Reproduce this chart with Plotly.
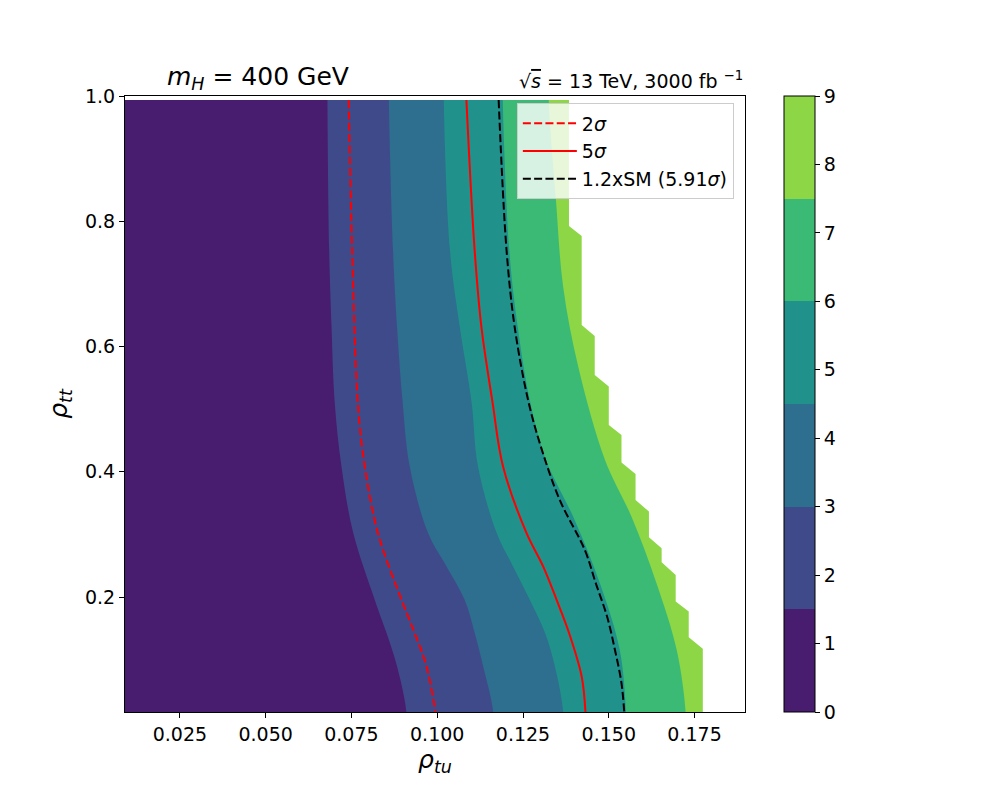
import plotly.graph_objects as go

# ---------------- data ----------------
x_min, x_max = 0.009, 0.1897          # axis range of rho_tu
y_min, y_max = 0.0165, 1.0            # axis range of rho_tt
data_top = 0.9936                     # top of the computed grid

levels = [0, 1.5, 3, 4.5, 6, 7.5, 9]
band_colors = ["#481c6e", "#3f4a8a", "#2e6e8e", "#21918c", "#3bba76", "#8dd645"]

# contour boundaries (x position of each level along rho_tt, top -> bottom)
b15_y = [0.9936, 0.754, 0.630, 0.5116, 0.408, 0.3025, 0.1955, 0.143, 0.089, 0.0165]
b15_x = [0.0680, 0.0685, 0.0692, 0.0701, 0.0721, 0.0755, 0.0818, 0.0852, 0.0883, 0.0910]

b30_y = [0.9936, 0.754, 0.630, 0.5116, 0.408, 0.3025, 0.2487, 0.1955, 0.143, 0.089, 0.0165]
b30_x = [0.0859, 0.0871, 0.0883, 0.0899, 0.0920, 0.0973, 0.1027, 0.1080, 0.1109, 0.1134, 0.1163]

b45_y = [0.9936, 0.754, 0.630, 0.5116, 0.408, 0.3025, 0.2487, 0.1955, 0.143, 0.089, 0.0165]
b45_x = [0.1019, 0.1037, 0.1066, 0.1100, 0.1119, 0.1173, 0.1221, 0.1270, 0.1314, 0.1343, 0.1367]

b60_y = [0.9936, 0.754, 0.630, 0.5116, 0.419, 0.3285, 0.2222, 0.1156, 0.0165]
b60_x = [0.1191, 0.1210, 0.1235, 0.1271, 0.1317, 0.1396, 0.1474, 0.1532, 0.1550]

b75_y = [0.9936, 0.834, 0.6956, 0.5679, 0.419, 0.3285, 0.2222, 0.1156, 0.0165]
b75_x = [0.1325, 0.1346, 0.1367, 0.1411, 0.1489, 0.1566, 0.1639, 0.1698, 0.1724]

# right edge of the valid grid (beyond it: no data)
edge_y = [0.9936, 0.7925, 0.7765, 0.6345, 0.6169, 0.5546, 0.5360, 0.4749, 0.4589, 0.4147,
          0.3966, 0.3551, 0.3365, 0.2956, 0.2780, 0.2557, 0.2354, 0.1928, 0.1769, 0.1360,
          0.1173, 0.0165]
edge_x = [0.1384, 0.1384, 0.1421, 0.1421, 0.1459, 0.1459, 0.1500, 0.1500, 0.1537, 0.1537,
          0.1578, 0.1578, 0.1617, 0.1617, 0.1654, 0.1654, 0.1695, 0.1695, 0.1733, 0.1733,
          0.1774, 0.1774]

# significance contour lines
sig2_y = [0.9936, 0.754, 0.5068, 0.408, 0.3025, 0.1955, 0.143, 0.089, 0.0165]
sig2_x = [0.0742, 0.0752, 0.0769, 0.0789, 0.0827, 0.0896, 0.0934, 0.0969, 0.0995]

sig5_y = [0.9936, 0.754, 0.630, 0.5116, 0.408, 0.3025, 0.2487, 0.1955, 0.143, 0.0731, 0.0165]
sig5_x = [0.1085, 0.1109, 0.1129, 0.1161, 0.1192, 0.1260, 0.1309, 0.1348, 0.1384, 0.1421, 0.1432]

sm_y = [0.9936, 0.754, 0.630, 0.5116, 0.435, 0.3551, 0.2753, 0.2222, 0.1689, 0.1156, 0.0626, 0.0165]
sm_x = [0.1179, 0.1202, 0.1226, 0.1266, 0.1305, 0.1357, 0.1430, 0.1462, 0.1495, 0.1518, 0.1537, 0.1545]

x_ticks = [0.025, 0.050, 0.075, 0.100, 0.125, 0.150, 0.175]
x_tick_labels = ["0.025", "0.050", "0.075", "0.100", "0.125", "0.150", "0.175"]
y_ticks = [0.2, 0.4, 0.6, 0.8, 1.0]
y_tick_labels = ["0.2", "0.4", "0.6", "0.8", "1.0"]
cbar_ticks = [0, 1, 2, 3, 4, 5, 6, 7, 8, 9]

legend_labels = ["2<i>σ</i>", "5<i>σ</i>", "1.2xSM (5.91<i>σ</i>)"]
title_left = "<i>m</i><sub><i>H</i></sub> = 400 GeV"
title_right = "√<span style='text-decoration:overline'><i>s</i></span> = 13 TeV, 3000 fb <sup>−1</sup>"

FONT = "DejaVu Sans"

# ---------------- figure ----------------
fig = go.Figure()

pad = 0.05  # how far the fill polygons reach outside the visible data area
right_edges = [(edge_x, edge_y, "linear"), (b75_x, b75_y, "spline"), (b60_x, b60_y, "spline"),
               (b45_x, b45_y, "spline"), (b30_x, b30_y, "spline"), (b15_x, b15_y, "spline")]
for (bx, by, shp), col in zip(right_edges, band_colors[::-1]):
    px = [x_min - pad, bx[0]] + list(bx) + [bx[-1], x_min - pad]
    py = [by[0] + pad, by[0] + pad] + list(by) + [by[-1] - pad, by[-1] - pad]
    fig.add_trace(go.Scatter(
        x=px, y=py, mode="lines", fill="toself", fillcolor=col,
        line=dict(width=0, color=col, shape=shp), showlegend=False, hoverinfo="skip"))

# blank strip between the top of the grid and the top of the axes
fig.add_trace(go.Scatter(
    x=[x_min - pad, x_max + pad, x_max + pad, x_min - pad],
    y=[data_top, data_top, y_max + pad, y_max + pad],
    mode="lines", fill="toself", fillcolor="white", line=dict(width=0, color="white"),
    showlegend=False, hoverinfo="skip"))

# contour lines
fig.add_trace(go.Scatter(x=sig2_x, y=sig2_y, mode="lines", name=legend_labels[0],
                         line=dict(color="red", width=2, dash="8px,3.3px", shape="spline"),
                         hoverinfo="skip"))
fig.add_trace(go.Scatter(x=sig5_x, y=sig5_y, mode="lines", name=legend_labels[1],
                         line=dict(color="red", width=2, shape="spline"),
                         hoverinfo="skip"))
fig.add_trace(go.Scatter(x=sm_x, y=sm_y, mode="lines", name=legend_labels[2],
                         line=dict(color="black", width=2, dash="8px,3.3px", shape="spline"),
                         hoverinfo="skip"))

# colour bar (discrete bands)
cs = []
nb = len(band_colors)
for i, c in enumerate(band_colors):
    cs.append([i / nb, c])
    cs.append([(i + 1) / nb, c])
fig.add_trace(go.Scatter(
    x=[b15_x[0]], y=[b15_y[0]], mode="markers", showlegend=False, hoverinfo="skip",
    marker=dict(size=1, opacity=0, color=[levels[0]], cmin=levels[0], cmax=levels[-1],
                colorscale=cs, showscale=True,
                colorbar=dict(x=1.0629, xanchor="left", xpad=0, ypad=0,
                              y=0.5, yanchor="middle", len=1, lenmode="fraction",
                              thickness=31, thicknessmode="pixels",
                              outlinecolor="black", outlinewidth=1,
                              tickvals=cbar_ticks, ticks="outside", ticklen=5,
                              tickcolor="black", tickwidth=1,
                              tickfont=dict(family=FONT, size=19, color="black")))))

axis_common = dict(showgrid=False, zeroline=False, showline=True, linecolor="black",
                   linewidth=1, mirror=True, ticks="outside", ticklen=5, tickwidth=1,
                   tickcolor="black", tickfont=dict(family=FONT, size=19, color="black"))

fig.update_layout(
    width=1000, height=800,
    margin=dict(l=117, r=263, t=88, b=96),
    paper_bgcolor="white", plot_bgcolor="white",
    font=dict(family=FONT, color="black"),
    xaxis=dict(range=[x_min, x_max], tickvals=x_ticks, ticktext=x_tick_labels,
               title=dict(text="<i>ρ</i><sub><i>tu</i></sub>",
                          font=dict(family=FONT, size=25), standoff=0),
               **axis_common),
    yaxis=dict(range=[y_min, y_max], tickvals=y_ticks, ticktext=y_tick_labels,
               title=dict(text="<i>ρ</i><sub><i>tt</i></sub>",
                          font=dict(family=FONT, size=25), standoff=10),
               **axis_common),
    legend=dict(x=0.632, y=0.988, xanchor="left", yanchor="top", itemwidth=54,
                bgcolor="rgba(255,255,255,0.8)", bordercolor="#cccccc", borderwidth=1,
                font=dict(family=FONT, size=19, color="black")),
    annotations=[
        dict(text=title_left, xref="paper", yref="paper", x=0.0645, y=1.0292,
             xanchor="left", yanchor="middle", showarrow=False,
             font=dict(family=FONT, size=25, color="black")),
        dict(text=title_right, xref="paper", yref="paper", x=1.0, y=1.026,
             xanchor="right", yanchor="middle", showarrow=False,
             font=dict(family=FONT, size=19, color="black")),
    ],
)

fig.write_html("out.html")
